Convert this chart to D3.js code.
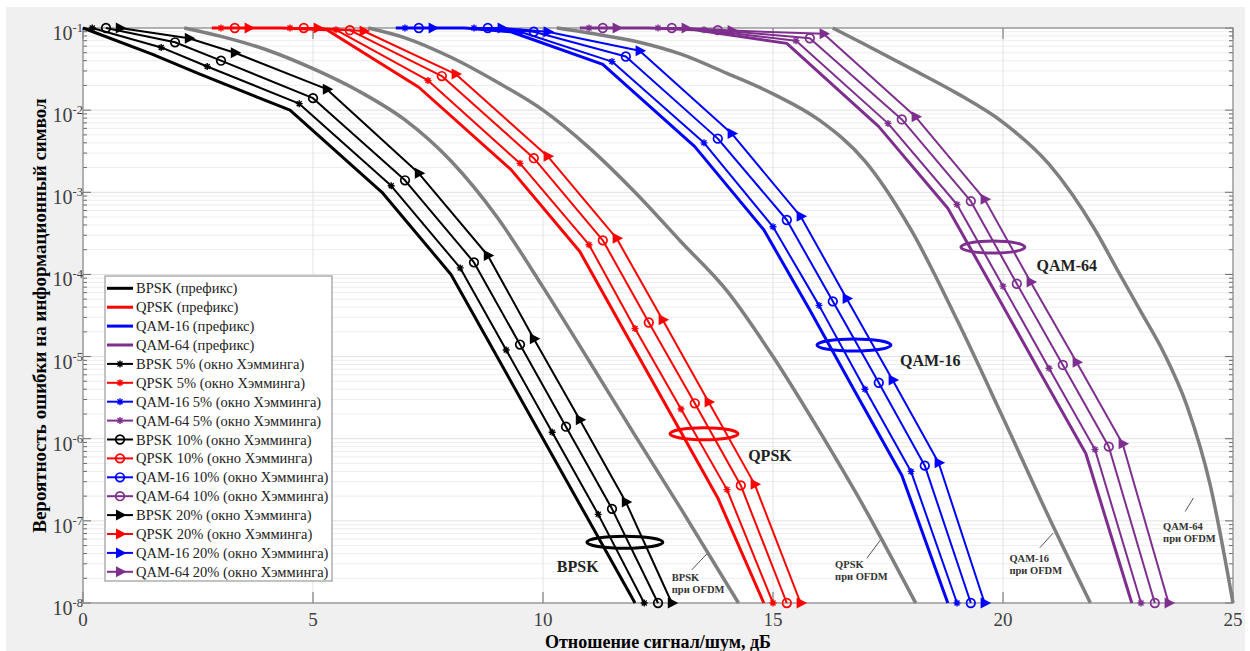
<!DOCTYPE html>
<html>
<head>
<meta charset="utf-8">
<script src="https://cdn.jsdelivr.net/npm/d3@7"></script>
<style>
  body { margin: 0; background: #fff; }
  svg text { font-family: 'Liberation Serif', 'Times New Roman', serif; }
</style>
</head>
<body>
<div id="plot"></div>
<script>
// [snr dB, symbol error probability]
var bpskPrefix = [[0, 0.1], [1.5, 0.048], [2.5, 0.028], [4.5, 0.01], [6.5, 1e-3], [8, 1e-4], [9, 1e-5], [10, 1e-6], [11, 1e-7], [12, 1e-8]]
var bpsk5 = [[0.2, 0.1], [1.7, 0.058], [2.7, 0.034], [4.7, 0.012], [6.7, 1.2e-3], [8.2, 1.2e-4], [9.2, 1.2e-5], [10.2, 1.2e-6], [11.2, 1.2e-7], [12.2, 1e-8]]
var bpsk10 = [[0.5, 0.1], [2, 0.067], [3, 0.04], [5, 0.014], [7, 1.4e-3], [8.5, 1.4e-4], [9.5, 1.4e-5], [10.5, 1.4e-6], [11.5, 1.4e-7], [12.5, 1e-8]]
var bpsk20 = [[0.8, 0.1], [2.3, 0.075], [3.3, 0.05], [5.3, 0.018], [7.3, 1.7e-3], [8.8, 1.7e-4], [9.8, 1.65e-5], [10.8, 1.7e-6], [11.8, 1.7e-7], [12.8, 1e-8]]

var qpskPrefix = [[2.8, 0.1], [4.3, 0.1], [5.3, 0.095], [7.3, 0.019], [9.3, 1.9e-3], [10.8, 1.9e-4], [11.8, 1.9e-5], [12.8, 1.9e-6], [13.8, 1.9e-7], [14.8, 1e-8]]
var qpsk5 = [[3, 0.1], [4.5, 0.1], [5.5, 0.095], [7.5, 0.023], [9.5, 2.25e-3], [11, 2.3e-4], [12, 2.2e-5], [13, 2.3e-6], [14, 2.4e-7], [15, 1e-8]]
var qpsk10 = [[3.3, 0.1], [4.8, 0.1], [5.8, 0.094], [7.8, 0.026], [9.8, 2.6e-3], [11.3, 2.6e-4], [12.3, 2.6e-5], [13.3, 2.7e-6], [14.3, 2.7e-7], [15.3, 1e-8]]
var qpsk20 = [[3.6, 0.1], [5.1, 0.1], [6.1, 0.092], [8.1, 0.0275], [10.1, 2.75e-3], [11.6, 2.75e-4], [12.6, 2.8e-5], [13.6, 2.8e-6], [14.6, 2.8e-7], [15.6, 1e-8]]

var qam16Prefix = [[6.8, 0.1], [8.3, 0.1], [9.3, 0.09], [11.3, 0.036], [13.3, 3.6e-3], [14.8, 3.5e-4], [15.8, 3.7e-5], [16.8, 3.6e-6], [17.8, 3.6e-7], [18.8, 1e-8]]
var qam16w5 = [[7, 0.1], [8.5, 0.1], [9.5, 0.09], [11.5, 0.039], [13.5, 4e-3], [15, 3.8e-4], [16, 4.2e-5], [17, 4e-6], [18, 4e-7], [19, 1e-8]]
var qam16w10 = [[7.3, 0.1], [8.8, 0.1], [9.8, 0.09], [11.8, 0.045], [13.8, 4.5e-3], [15.3, 4.6e-4], [16.3, 4.7e-5], [17.3, 4.8e-6], [18.3, 4.7e-7], [19.3, 1e-8]]
var qam16w20 = [[7.6, 0.1], [9.1, 0.1], [10.1, 0.09], [12.1, 0.053], [14.1, 5.2e-3], [15.6, 5.1e-4], [16.6, 5.1e-5], [17.6, 5.2e-6], [18.6, 5.1e-7], [19.6, 1e-8]]

var qam64Prefix = [[10.8, 0.1], [12.3, 0.1], [13.3, 0.095], [15.3, 0.065], [17.3, 6.3e-3], [18.8, 6.4e-4], [19.8, 6.5e-5], [20.8, 6.5e-6], [21.8, 6.6e-7], [22.8, 1e-8]]
var qam64w5 = [[11, 0.1], [12.5, 0.1], [13.5, 0.095], [15.5, 0.07], [17.5, 6.9e-3], [19, 7.1e-4], [20, 7.2e-5], [21, 7.2e-6], [22, 7.4e-7], [23, 1e-8]]
var qam64w10 = [[11.3, 0.1], [12.8, 0.1], [13.8, 0.094], [15.8, 0.075], [17.8, 7.7e-3], [19.3, 7.8e-4], [20.3, 7.7e-5], [21.3, 7.9e-6], [22.3, 8e-7], [23.3, 1e-8]]
var qam64w20 = [[11.6, 0.1], [13.1, 0.1], [14.1, 0.093], [16.1, 0.085], [18.1, 8.3e-3], [19.6, 8.2e-4], [20.6, 8.1e-5], [21.6, 8.5e-6], [22.6, 8.7e-7], [23.6, 1e-8]]

// theoretical OFDM curves (grey)
var ofdmBpsk = [[2.2, 0.1], [3, 0.079], [4, 0.054], [5, 0.032], [6, 0.017], [7, 7.6e-3], [8, 2.4e-3], [9, 5e-4], [10, 7e-5], [11, 8.9e-6], [12, 1.1e-6], [13, 1.4e-7], [14.25, 1e-8]]
var ofdmQpsk = [[6.2, 0.1], [7, 0.076], [8, 0.044], [9, 0.022], [10, 0.01], [11, 3.5e-3], [12, 1e-3], [13, 2.5e-4], [14, 6.3e-5], [15, 1e-5], [16, 1.26e-6], [17, 1.4e-7], [18.1, 1e-8]]
var ofdmQam16 = [[10.3, 0.1], [11, 0.087], [12, 0.069], [13, 0.048], [14, 0.028], [15, 0.0158], [16, 7.6e-3], [17, 2.4e-3], [18, 3.5e-4], [19, 2.8e-5], [20, 1.8e-6], [21, 1.1e-7], [21.9, 1e-8]]
var ofdmQam64 = [[16.3, 0.1], [17, 0.063], [18, 0.032], [19, 0.016], [20, 7.1e-3], [21, 2.2e-3], [22, 3.5e-4], [22.5, 1.1e-4], [23, 3.5e-5], [23.5, 1.1e-5], [24, 2.5e-6], [24.5, 2.8e-7], [25, 1e-8]]

var xTicks = [0, 5, 10, 15, 20, 25]
var yTickExps = [-1, -2, -3, -4, -5, -6, -7, -8]

var legendLabels = [
  'BPSK (префикс)', 'QPSK (префикс)', 'QAM-16 (префикс)', 'QAM-64 (префикс)',
  'BPSK 5% (окно Хэмминга)', 'QPSK 5% (окно Хэмминга)', 'QAM-16 5% (окно Хэмминга)', 'QAM-64 5% (окно Хэмминга)',
  'BPSK 10% (окно Хэмминга)', 'QPSK 10% (окно Хэмминга)', 'QAM-16 10% (окно Хэмминга)', 'QAM-64 10% (окно Хэмминга)',
  'BPSK 20% (окно Хэмминга)', 'QPSK 20% (окно Хэмминга)', 'QAM-16 20% (окно Хэмминга)', 'QAM-64 20% (окно Хэмминга)'
]

// group annotations: [snr, ber] anchors
var groupNames = ['BPSK', 'QPSK', 'QAM-16', 'QAM-64']
var ellipseCenters = [[11.78, 5.5e-8], [13.5, 1.15e-6], [16.76, 1.38e-5], [19.78, 2.15e-4]]
var groupLabelPos = [[10.3, 2.4e-8], [14.46, 5.4e-7], [17.76, 7.7e-6], [20.73, 1.1e-4]]
var ofdmLabelPos = [[12.8, 1.85e-8], [16.35, 2.67e-8], [20.14, 3.15e-8], [23.48, 7.7e-8]]
var ofdmPointers = [
  [[13.23, 2.52e-8], [13.56, 3.95e-8]],
  [[17.04, 3.5e-8], [17.33, 5.8e-8]],
  [[20.8, 4.7e-8], [21.09, 7.1e-8]],
  [[23.96, 1.3e-7], [24.14, 1.9e-7]]
]

var black = '#000000', red = '#ff0000', blue = '#0000ff', purple = '#7e2f8e', grey = '#7f7f7f'
var colors = [black, red, blue, purple]

var seriesTable = [
  [bpskPrefix, qpskPrefix, qam16Prefix, qam64Prefix],
  [bpsk5, qpsk5, qam16w5, qam64w5],
  [bpsk10, qpsk10, qam16w10, qam64w10],
  [bpsk20, qpsk20, qam16w20, qam64w20]
]
var kinds = ['prefix', 'star', 'circle', 'tri']
var ofdmCurves = [ofdmBpsk, ofdmQpsk, ofdmQam16, ofdmQam64]

var margin = { top: 28, right: 17, bottom: 48, left: 83 }
var W = 1250, H = 651
var width = W - margin.left - margin.right
var height = H - margin.top - margin.bottom

var xScale = d3.scaleLinear().domain([0, 25]).range([0, width])
var yScale = d3.scaleLog().domain([1e-8, 1e-1]).range([height, 0])

var svg = d3.select('#plot').append('svg')
  .attr('width', W)
  .attr('height', H)

svg.append('rect')
  .attr('x', 6).attr('y', 7)
  .attr('width', 1239).attr('height', 644)
  .attr('fill', '#f0f0f0')

var g = svg.append('g')
  .attr('transform', 'translate(' + margin.left + ',' + margin.top + ')')

g.append('rect')
  .attr('width', width).attr('height', height)
  .attr('fill', '#fff')

// grid
var minorVals = []
yTickExps.forEach(function(e) {
  if (e === -1) return
  for (var k = 2; k <= 9; k++) minorVals.push(k * Math.pow(10, e))
})
g.selectAll('.gminor').data(minorVals).enter().append('line')
  .attr('x1', 0).attr('x2', width)
  .attr('y1', function(d) { return yScale(d) })
  .attr('y2', function(d) { return yScale(d) })
  .attr('stroke', '#ededed').attr('stroke-width', 1)
g.selectAll('.gmajor').data(yTickExps).enter().append('line')
  .attr('x1', 0).attr('x2', width)
  .attr('y1', function(d) { return yScale(Math.pow(10, d)) })
  .attr('y2', function(d) { return yScale(Math.pow(10, d)) })
  .attr('stroke', '#e0e0e0').attr('stroke-width', 1)
g.selectAll('.gx').data(xTicks).enter().append('line')
  .attr('x1', function(d) { return xScale(d) })
  .attr('x2', function(d) { return xScale(d) })
  .attr('y1', 0).attr('y2', height)
  .attr('stroke', '#e3e3e3').attr('stroke-width', 1)

// ticks
var tickColor = '#6a6a6a'
function yTicks(x0, dir) {
  g.selectAll(null).data(minorVals).enter().append('line')
    .attr('x1', x0).attr('x2', x0 + dir * 4)
    .attr('y1', function(d) { return yScale(d) })
    .attr('y2', function(d) { return yScale(d) })
    .attr('stroke', tickColor)
  g.selectAll(null).data(yTickExps).enter().append('line')
    .attr('x1', x0).attr('x2', x0 + dir * 8)
    .attr('y1', function(d) { return yScale(Math.pow(10, d)) })
    .attr('y2', function(d) { return yScale(Math.pow(10, d)) })
    .attr('stroke', tickColor)
}
yTicks(0, 1)
yTicks(width, -1)
g.selectAll(null).data(xTicks).enter().append('line')
  .attr('x1', function(d) { return xScale(d) })
  .attr('x2', function(d) { return xScale(d) })
  .attr('y1', height).attr('y2', height - 11)
  .attr('stroke', tickColor)
g.selectAll(null).data(xTicks).enter().append('line')
  .attr('x1', function(d) { return xScale(d) })
  .attr('x2', function(d) { return xScale(d) })
  .attr('y1', 0).attr('y2', 11)
  .attr('stroke', tickColor)

g.append('rect')
  .attr('width', width).attr('height', height)
  .attr('fill', 'none')
  .attr('stroke', '#8a8a8a').attr('stroke-width', 1.2)

// tick labels
g.selectAll('.xlab').data(xTicks).enter().append('text')
  .attr('x', function(d) { return xScale(d) })
  .attr('y', height + 23)
  .attr('text-anchor', 'middle')
  .attr('font-size', 19)
  .attr('fill', '#404040')
  .text(function(d) { return d })

g.selectAll('.ylab').data(yTickExps).enter().append('text')
  .attr('x', 0)
  .attr('y', function(d) { return yScale(Math.pow(10, d)) + 12 })
  .attr('text-anchor', 'end')
  .attr('font-size', 20)
  .attr('fill', '#404040')
  .each(function(d) {
    var t = d3.select(this)
    t.append('tspan').text('10')
    t.append('tspan').attr('dy', -8).attr('font-size', 12.5).text(d)
  })

// axis titles
svg.append('text')
  .attr('x', margin.left + width / 2)
  .attr('y', 648)
  .attr('text-anchor', 'middle')
  .attr('font-size', 18).attr('font-weight', 'bold')
  .text('Отношение сигнал/шум, дБ')

svg.append('text')
  .attr('transform', 'translate(46,' + (margin.top + height / 2) + ') rotate(-90)')
  .attr('text-anchor', 'middle')
  .attr('font-size', 19).attr('font-weight', 'bold')
  .text('Вероятность ошибки на информационный символ')

// curves
var plotLine = d3.line()
  .x(function(d) { return xScale(d[0]) })
  .y(function(d) { return yScale(d[1]) })
var smoothLine = d3.line()
  .curve(d3.curveMonotoneX)
  .x(function(d) { return xScale(d[0]) })
  .y(function(d) { return yScale(d[1]) })

g.selectAll('.ofdm').data(ofdmCurves).enter().append('path')
  .attr('d', smoothLine)
  .attr('fill', 'none')
  .attr('stroke', grey).attr('stroke-width', 3.5)

function drawMarker(sel, kind, color) {
  if (kind === 'star') {
    sel.append('path')
      .attr('d', 'M-3.5,0L3.5,0M0,-3.5L0,3.5M-2.5,-2.5L2.5,2.5M-2.5,2.5L2.5,-2.5')
      .attr('stroke', color).attr('stroke-width', 1.4).attr('fill', 'none')
  } else if (kind === 'circle') {
    sel.append('circle').attr('r', 4.3)
      .attr('fill', 'none').attr('stroke', color).attr('stroke-width', 1.7)
  } else if (kind === 'tri') {
    sel.append('path').attr('d', 'M-4,-5.5L6.5,0L-4,5.5Z').attr('fill', color)
  }
}

seriesTable.forEach(function(row, ki) {
  row.forEach(function(data, ci) {
    var color = colors[ci]
    g.append('path')
      .datum(data)
      .attr('d', plotLine)
      .attr('fill', 'none')
      .attr('stroke', color)
      .attr('stroke-width', ki === 0 ? 3 : 2)
      .attr('stroke-linejoin', 'round')
    if (ki === 0) return
    g.selectAll(null).data(data).enter().append('g')
      .attr('transform', function(d) { return 'translate(' + xScale(d[0]) + ',' + yScale(d[1]) + ')' })
      .each(function() { drawMarker(d3.select(this), kinds[ki], color) })
  })
})

// ellipses and group labels
g.selectAll('.ell').data(ellipseCenters).enter().append('ellipse')
  .attr('cx', function(d) { return xScale(d[0]) })
  .attr('cy', function(d) { return yScale(d[1]) })
  .attr('rx', function(d, i) { return [38, 34, 37, 32][i] })
  .attr('ry', 6)
  .attr('fill', 'none')
  .attr('stroke', function(d, i) { return colors[i] })
  .attr('stroke-width', 3)

g.selectAll('.glab').data(groupLabelPos).enter().append('text')
  .attr('x', function(d) { return xScale(d[0]) })
  .attr('y', function(d) { return yScale(d[1]) })
  .attr('font-size', 16).attr('font-weight', 'bold')
  .attr('fill', '#222')
  .text(function(d, i) { return groupNames[i] })

g.selectAll('.olab').data(ofdmLabelPos).enter().append('text')
  .attr('x', function(d) { return xScale(d[0]) })
  .attr('y', function(d) { return yScale(d[1]) })
  .attr('font-size', 10.5).attr('font-weight', 'bold')
  .attr('fill', '#333')
  .each(function(d, i) {
    var t = d3.select(this)
    t.append('tspan').attr('x', xScale(d[0])).text(groupNames[i])
    t.append('tspan').attr('x', xScale(d[0])).attr('dy', 12).text('при OFDM')
  })

g.selectAll('.optr').data(ofdmPointers).enter().append('line')
  .attr('x1', function(d) { return xScale(d[0][0]) })
  .attr('y1', function(d) { return yScale(d[0][1]) })
  .attr('x2', function(d) { return xScale(d[1][0]) })
  .attr('y2', function(d) { return yScale(d[1][1]) })
  .attr('stroke', '#555').attr('stroke-width', 1)

// legend
var legend = svg.append('g').attr('transform', 'translate(105,276)')
legend.append('rect')
  .attr('width', 227).attr('height', 305)
  .attr('fill', '#fff')
  .attr('stroke', '#9a9a9a').attr('stroke-width', 1.2)

var items = legend.selectAll('.item').data(legendLabels).enter().append('g')
  .attr('transform', function(d, i) { return 'translate(0,' + (12.3 + i * 18.9) + ')' })

items.each(function(d, i) {
  var it = d3.select(this)
  var ki = Math.floor(i / 4), ci = i % 4
  it.append('line')
    .attr('x1', 2).attr('x2', 28)
    .attr('stroke', colors[ci])
    .attr('stroke-width', ki === 0 ? 3 : 2)
  var m = it.append('g').attr('transform', 'translate(15,0)')
  drawMarker(m, kinds[ki], colors[ci])
  it.append('text')
    .attr('x', 31).attr('y', 5)
    .attr('font-size', 14.5)
    .attr('fill', '#222')
    .text(d)
})
</script>
</body>
</html>
